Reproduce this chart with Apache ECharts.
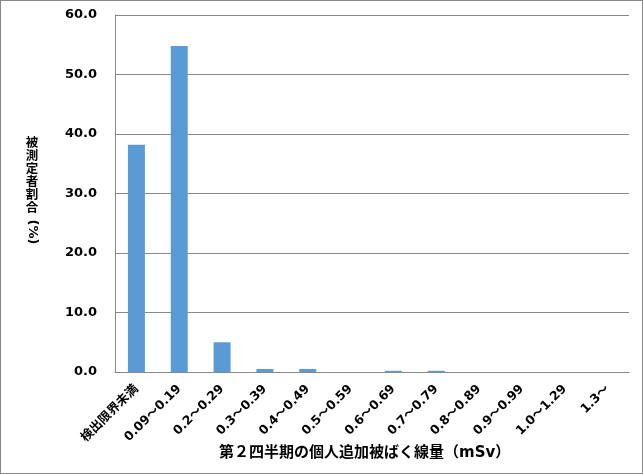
<!DOCTYPE html>
<html><head><meta charset="utf-8">
<script src="https://cdn.jsdelivr.net/npm/echarts@6/dist/echarts.min.js"></script>
<style>html,body{margin:0;padding:0;background:#fff}#c{width:643px;height:474px;box-sizing:border-box;border:1px solid #888}</style>
</head><body><div id="c"></div>
<script>
const categories = ['検出限界未満','0.09～0.19','0.2～0.29','0.3～0.39','0.4～0.49','0.5～0.59','0.6～0.69','0.7～0.79','0.8～0.89','0.9～0.99','1.0～1.29','1.3～'];
const values = [38.2, 54.8, 5.0, 0.5, 0.5, 0, 0.2, 0.2, 0, 0, 0, 0];
const yTicks = {min: 0, max: 60, interval: 10};
const xTitle = '第２四半期の個人追加被ばく線量（mSv）';
const yTitle = '被\n測\n定\n者\n割\n合';
const yUnit = '(%)';
const FONT = '"DejaVu Sans", "Noto Sans CJK JP", sans-serif';
const chart = echarts.init(document.getElementById('c'), null, {renderer: 'canvas'});
chart.setOption({
  animation: false,
  grid: {left: 114, right: 13, top: 14, bottom: 101, containLabel: false},
  xAxis: {
    type: 'category', data: categories,
    axisLine: {lineStyle: {color: '#888', width: 1}},
    axisTick: {show: false},
    axisLabel: {rotate: 45, interval: 0, margin: 15, color: '#000', fontWeight: 'bold', fontSize: 12.5, fontFamily: FONT}
  },
  yAxis: {
    type: 'value', min: yTicks.min, max: yTicks.max, interval: yTicks.interval,
    axisLine: {show: true, lineStyle: {color: '#888', width: 1}},
    axisTick: {show: false},
    splitLine: {lineStyle: {color: '#888', width: 1}},
    axisLabel: {margin: 18, color: '#000', fontWeight: 'bold', fontSize: 13, fontFamily: FONT, formatter: v => v.toFixed(1)}
  },
  graphic: [
    {type: 'text', left: 218, top: 445, style: {text: xTitle, font: 'bold 15px ' + FONT, fill: '#000'}},
    {type: 'text', x: 31, y: 136, style: {text: yTitle, font: 'bold 12.5px ' + FONT, fill: '#000', lineHeight: 13, align: 'center', verticalAlign: 'top'}},
    {type: 'text', x: 31, y: 231, rotation: -Math.PI / 2, style: {text: yUnit, font: 'bold 13px ' + FONT, fill: '#000', align: 'center', verticalAlign: 'middle'}}
  ],
  series: [{type: 'bar', data: values, barWidth: 17, itemStyle: {color: '#5b9bd5'}}]
});
</script></body></html>
